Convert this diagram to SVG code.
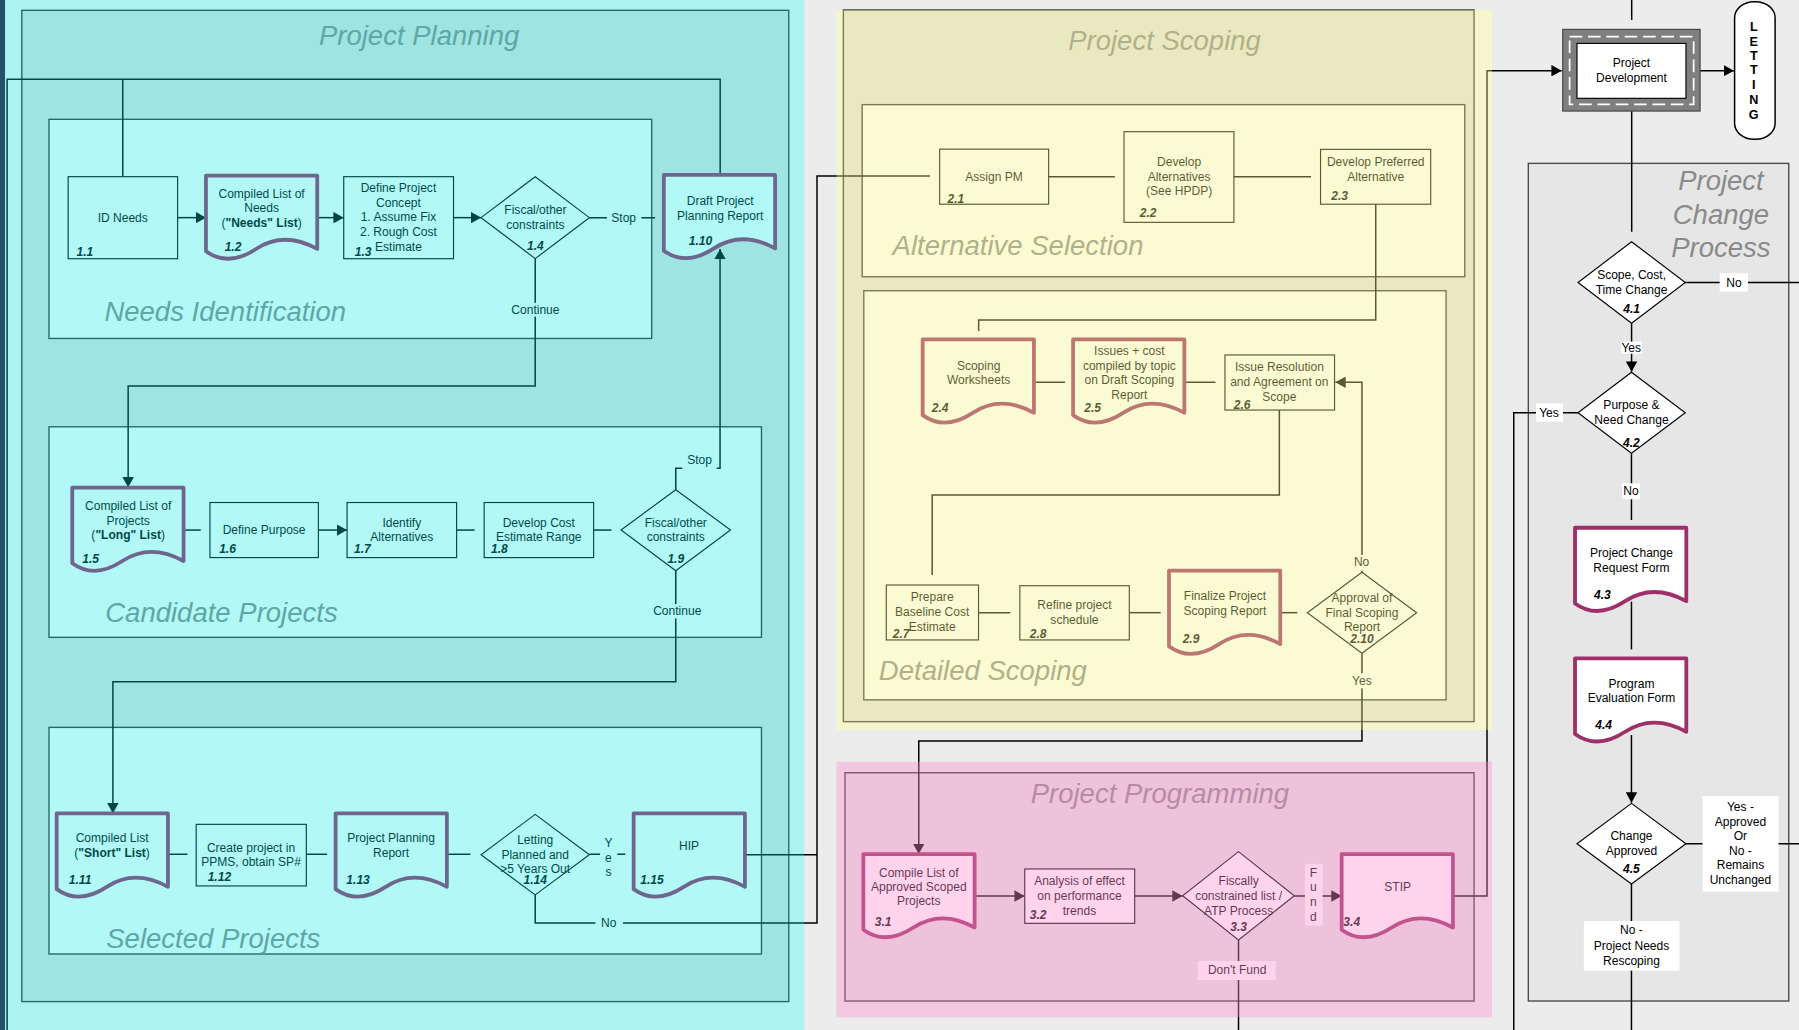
<svg xmlns="http://www.w3.org/2000/svg" xmlns:xlink="http://www.w3.org/1999/xlink" width="1799" height="1030" viewBox="0 0 1799 1030">
<style>
text{font-family:"Liberation Sans",Arial,sans-serif;font-size:10.5px;fill:#000}
.t{text-anchor:middle}
.n{font-weight:bold;font-style:italic}
.nm{font-weight:bold;font-style:italic;text-anchor:middle}
.b{font-weight:bold}
.title{font-size:24px;font-style:italic;fill:#8a8a8a}
.tc{font-size:24px;font-style:italic;fill:#8a8a8a;text-anchor:middle}
.box{fill:#e3e3e3;stroke:#333;stroke-width:1.2}
.sub{fill:#fff;stroke:#333;stroke-width:1.2}
.node{fill:#fff;stroke:#000;stroke-width:1}
.doc{fill:#fff;stroke:#9e2f68;stroke-width:3.3;stroke-linejoin:round}
.c{fill:none;stroke:#000;stroke-width:1.3}
.ca{fill:none;stroke:#000;stroke-width:1.3;marker-end:url(#ah)}
.lbl{fill:#fff}
.let{font-weight:bold;font-size:11px;text-anchor:middle}
</style>
<defs>
<marker id="ah" viewBox="0 0 9 10" refX="9" refY="5" markerWidth="9" markerHeight="10" markerUnits="userSpaceOnUse" orient="auto"><path d="M0,0L9,5L0,10z" fill="#000"/></marker>
<path id="doc" d="M0,0H97V64Q67.9,48 43.65,64Q19.4,80 0,66Z"/>
</defs>
<g transform="scale(1.1473)">
<rect x="0" y="0" width="1570" height="900" fill="#ececec"/>
<rect x="4.4" y="0" width="696.5" height="900" fill="#f8f8f8"/>
<rect x="729.1" y="8.7" width="571.3" height="627.6" fill="#f8f8f8"/>
<rect x="0" y="0" width="4.4" height="900" fill="#25506e"/>

<g id="areas">
<rect class="box" x="19" y="9" width="668.5" height="864"/>
<text class="tc" x="365.3" y="39">Project Planning</text>
<rect class="sub" x="42.7" y="104" width="525.3" height="191"/>
<text class="title" x="91" y="280">Needs Identification</text>
<rect class="sub" x="42.7" y="372" width="621" height="183.5"/>
<text class="title" x="91.7" y="542">Candidate Projects</text>
<rect class="sub" x="42.7" y="634" width="621" height="197.5"/>
<text class="title" x="92.6" y="826">Selected Projects</text>

<rect class="box" x="735.1" y="8.7" width="549.7" height="620.3"/>
<text class="tc" x="1015" y="44">Project Scoping</text>
<rect class="sub" x="751.5" y="91.2" width="525.2" height="150"/>
<text class="title" x="778" y="222">Alternative Selection</text>
<rect class="sub" x="752.9" y="253.4" width="507.5" height="356.6"/>
<text class="title" x="766" y="593">Detailed Scoping</text>

<rect class="box" x="736.5" y="673.5" width="548.3" height="199"/>
<text class="tc" x="1011" y="700">Project Programming</text>

<rect x="1332.1" y="142.4" width="227" height="730.1" fill="#e6e6e6" stroke="#4a4a4a" stroke-width="1.2"/>
<text class="tc" x="1500" y="166">Project</text>
<text class="tc" x="1500" y="195">Change</text>
<text class="tc" x="1500" y="224">Process</text>
</g>

<g id="connectors">
<path class="ca" d="M154.8,189.7H179.5"/>
<path class="ca" d="M276.8,189.7H299.6"/>
<path class="ca" d="M395.3,189.7H419.3"/>
<path class="c" d="M513.7,189.7H571"/>
<rect class="lbl" x="529" y="183.5" width="30" height="12.5"/>
<text class="t" x="543.6" y="193.5">Stop</text>
<path class="ca" d="M466.5,225.4V336.5H111.7V424.8"/>
<rect class="lbl" x="424.5" y="264" width="83.5" height="12"/>
<text class="t" x="466.7" y="273.8">Continue</text>
<path class="c" d="M107,154V69"/>
<path class="c" d="M627.7,152.5V69H6.2V900"/>
<path class="c" d="M159.5,462H175"/>
<path class="ca" d="M277.5,462H302.5"/>
<path class="c" d="M398,462H413.6"/>
<path class="c" d="M517.4,462H533"/>
<path class="ca" d="M589,426.8V408.2H627.6V217"/>
<rect class="lbl" x="594.6" y="393.7" width="30.1" height="15.2"/>
<text class="t" x="609.7" y="404.8">Stop</text>
<path class="ca" d="M589,497.4V594.2H98.4V709"/>
<rect class="lbl" x="559.6" y="526.5" width="60.7" height="12.5"/>
<text class="t" x="590.3" y="536.1">Continue</text>
<path class="c" d="M146.8,744.6H163.4"/>
<path class="c" d="M267,744.6H285"/>
<path class="c" d="M390.3,744.6H410"/>
<path class="c" d="M513.7,744.6H545"/>
<rect class="lbl" x="523" y="729" width="15" height="35"/>
<text class="t" x="530.3" y="738.3">Y</text>
<text class="t" x="530.3" y="751.1">e</text>
<text class="t" x="530.3" y="763.8">s</text>
<path class="c" d="M466.5,780V804.5H712.1V153.4H810.6"/>
<rect class="lbl" x="519" y="797" width="24" height="13.5"/>
<text class="t" x="530.5" y="807.8">No</text>
<path class="c" d="M649.7,745H712.1"/>

<path class="c" d="M914.3,154H971.7"/>
<path class="c" d="M1075.5,154H1142.7"/>
<path class="c" d="M1199.1,178V278.9H853V288.5"/>
<path class="c" d="M902.3,333.2H928.3"/>
<path class="c" d="M1033.4,333.2H1059.4"/>
<path class="c" d="M1115.1,357.4V431.4H812.5V501.2"/>
<path class="c" d="M852.9,534H880.6"/>
<path class="c" d="M984.3,534H1011.7"/>
<path class="c" d="M1116.5,534H1130.7"/>
<path class="ca" d="M1187.1,498.8V333.2H1163.9"/>
<rect class="lbl" x="1175.2" y="483.7" width="23.3" height="13.7"/>
<text class="t" x="1186.8" y="493.4">No</text>
<path class="ca" d="M1187.1,569.4V645.9H800.8V744.4"/>
<rect class="lbl" x="1175.2" y="586.9" width="23.3" height="13.1"/>
<text class="t" x="1187" y="597.1">Yes</text>

<path class="ca" d="M849.8,781H893.2"/>
<path class="ca" d="M989,781H1030.8"/>
<path class="ca" d="M1128.1,781H1169.4"/>
<rect class="lbl" x="1137.5" y="753" width="15.3" height="53.8"/>
<text class="t" x="1144.7" y="764.2">F</text>
<text class="t" x="1144.7" y="776.6">u</text>
<text class="t" x="1144.7" y="789.7">n</text>
<text class="t" x="1144.7" y="802.8">d</text>
<path class="c" d="M1079.5,819.3V900"/>
<rect class="lbl" x="1044" y="837.6" width="68" height="16.6"/>
<text class="t" x="1078.3" y="848.7">Don't Fund</text>
<path class="ca" d="M1267.6,781H1296.1V61.6H1361.2"/>

<path class="c" d="M1422.2,0V17.4"/>
<path class="ca" d="M1481.8,61.6H1511.3"/>
<path class="c" d="M1422.2,96.8V202"/>
<path class="c" d="M1468.9,246.2H1570"/>
<rect class="lbl" x="1498.9" y="238.2" width="24.7" height="16"/>
<text class="t" x="1511.3" y="250.2">No</text>
<path class="ca" d="M1422.1,281.8V324"/>
<rect class="lbl" x="1412.9" y="297.8" width="18.3" height="10.5"/>
<text class="t" x="1421.8" y="306.5">Yes</text>
<path class="c" d="M1375.4,359.8H1319.4V900"/>
<rect class="lbl" x="1338.8" y="351.5" width="23.5" height="16"/>
<text class="t" x="1350.1" y="363.5">Yes</text>
<path class="c" d="M1422,395.1V453.2"/>
<rect class="lbl" x="1413.8" y="421.3" width="15.6" height="13.9"/>
<text class="t" x="1421.6" y="431.8">No</text>
<path class="c" d="M1422,524.4V566"/>
<path class="ca" d="M1422,640.7V699.6"/>
<path class="c" d="M1469.5,735.4H1570"/>
<rect class="lbl" x="1484" y="693.8" width="66.2" height="83.4"/>
<text class="t" x="1517" y="706.9">Yes -</text>
<text class="t" x="1517" y="720">Approved</text>
<text class="t" x="1517" y="732.2">Or</text>
<text class="t" x="1517" y="745.3">No -</text>
<text class="t" x="1517" y="757.8">Remains</text>
<text class="t" x="1517" y="770.8">Unchanged</text>
<path class="c" d="M1422,770.5V900"/>
<rect class="lbl" x="1380.5" y="802.8" width="83.3" height="43.2"/>
<text class="t" x="1422" y="814.4">No -</text>
<text class="t" x="1422" y="828.1">Project Needs</text>
<text class="t" x="1422" y="841.4">Rescoping</text>
</g>

<g id="n1_1"><rect class="node" x="59.4" y="154" width="95.4" height="71.5"/><text class="t" x="107" y="193.5">ID Needs</text><text class="n" x="66.7" y="223.2">1.1</text></g>
<g id="n1_2"><use href="#doc" class="doc" x="179.5" y="153"/><text class="t" x="228" y="172.3">Compiled List of</text><text class="t" x="228" y="185.1">Needs</text><text class="t" x="228" y="197.9">(<tspan class="b">"Needs" List</tspan>)</text><text class="n" x="195.8" y="218.8">1.2</text></g>
<g id="n1_3"><rect class="node" x="299.6" y="154" width="95.7" height="71.5"/><text class="t" x="347.3" y="167.4">Define Project</text><text class="t" x="347.3" y="180.2">Concept</text><text class="t" x="347.3" y="193">1. Assume Fix</text><text class="t" x="347.3" y="205.8">2. Rough Cost</text><text class="t" x="347.3" y="218.6">Estimate</text><text class="n" x="309.2" y="223.2">1.3</text></g>
<g id="n1_4"><polygon class="node" points="466.5,154 513.7,189.7 466.5,225.4 419.3,189.7"/><text class="t" x="466.7" y="186.8">Fiscal/other</text><text class="t" x="466.7" y="199.9">constraints</text><text class="nm" x="466.7" y="217.9">1.4</text></g>
<g id="n1_10"><use href="#doc" class="doc" x="578.6" y="152.5"/><text class="t" x="627.7" y="178.7">Draft Project</text><text class="t" x="627.7" y="192.1">Planning Report</text><text class="n" x="600.4" y="213.6">1.10</text></g>
<g id="n1_5"><use href="#doc" class="doc" x="63" y="425"/><text class="t" x="111.7" y="444.5">Compiled List of</text><text class="t" x="111.7" y="457.6">Projects</text><text class="t" x="111.7" y="469.8">(<tspan class="b">"Long" List</tspan>)</text><text class="n" x="71.7" y="490.3">1.5</text></g>
<g id="n1_6"><rect class="node" x="183" y="438" width="94.5" height="48"/><text class="t" x="230.2" y="465.8">Define Purpose</text><text class="n" x="191" y="482.3">1.6</text></g>
<g id="n1_7"><rect class="node" x="302.5" y="438" width="95.5" height="48"/><text class="t" x="350.2" y="459.3">Identify</text><text class="t" x="350.2" y="471.6">Alternatives</text><text class="n" x="308.5" y="482.3">1.7</text></g>
<g id="n1_8"><rect class="node" x="422" y="438" width="95.4" height="48"/><text class="t" x="469.6" y="459.3">Develop Cost</text><text class="t" x="469.6" y="471.6">Estimate Range</text><text class="n" x="428" y="482.3">1.8</text></g>
<g id="n1_9"><polygon class="node" points="589,426.8 636.7,462 589,497.4 541.3,462"/><text class="t" x="589" y="459.3">Fiscal/other</text><text class="t" x="589" y="471.6">constraints</text><text class="nm" x="589" y="490.4">1.9</text></g>
<g id="n1_11"><use href="#doc" class="doc" x="49.4" y="709"/><text class="t" x="97.7" y="733.8">Compiled List</text><text class="t" x="97.7" y="747">(<tspan class="b">"Short" List</tspan>)</text><text class="n" x="60" y="770.8">1.11</text></g>
<g id="n1_12"><rect class="node" x="171" y="718.5" width="96" height="53.7"/><text class="t" x="218.8" y="742.6">Create project in</text><text class="t" x="218.8" y="754.8">PPMS, obtain SP#</text><text class="n" x="181" y="767.9">1.12</text></g>
<g id="n1_13"><use href="#doc" class="doc" x="292.5" y="709"/><text class="t" x="340.9" y="733.8">Project Planning</text><text class="t" x="340.9" y="746.8">Report</text><text class="n" x="301.9" y="770.8">1.13</text></g>
<g id="n1_14"><polygon class="node" points="466.5,709.8 513.7,745 466.5,780 419.3,745"/><text class="t" x="466.5" y="736">Letting</text><text class="t" x="466.5" y="748.4">Planned and</text><text class="t" x="466.5" y="760.8">&gt;5 Years Out</text><text class="nm" x="466.5" y="770.8">1.14</text></g>
<g id="n1_15"><use href="#doc" class="doc" x="552.3" y="709"/><text class="t" x="600.6" y="740.9">HIP</text><text class="n" x="558" y="770.8">1.15</text></g>

<g id="n2_1"><rect class="node" x="819" y="130" width="95" height="48"/><text class="t" x="866.4" y="157.8">Assign PM</text><text class="n" x="825.9" y="177.3">2.1</text></g>
<g id="n2_2"><rect class="node" x="979.7" y="114.8" width="95.8" height="79"/><text class="t" x="1027.7" y="144.7">Develop</text><text class="t" x="1027.7" y="157.8">Alternatives</text><text class="t" x="1027.7" y="170">(See HPDP)</text><text class="n" x="993.4" y="189.2">2.2</text></g>
<g id="n2_3"><rect class="node" x="1151" y="130.2" width="96" height="47.8"/><text class="t" x="1199.1" y="144.7">Develop Preferred</text><text class="t" x="1199.1" y="157.8">Alternative</text><text class="n" x="1160.4" y="174.6">2.3</text></g>
<g id="n2_4"><use href="#doc" class="doc" x="804.2" y="295.8"/><text class="t" x="853" y="322.8">Scoping</text><text class="t" x="853" y="335">Worksheets</text><text class="n" x="812.2" y="358.8">2.4</text></g>
<g id="n2_5"><use href="#doc" class="doc" x="935.3" y="295.8"/><text class="t" x="984.4" y="309.4">Issues + cost</text><text class="t" x="984.4" y="322.5">compiled by topic</text><text class="t" x="984.4" y="335">on Draft Scoping</text><text class="t" x="984.4" y="348.1">Report</text><text class="n" x="945" y="358.8">2.5</text></g>
<g id="n2_6"><rect class="node" x="1067.7" y="309.4" width="95.5" height="48"/><text class="t" x="1115.1" y="323.4">Issue Resolution</text><text class="t" x="1115.1" y="336.5">and Agreement on</text><text class="t" x="1115.1" y="349.6">Scope</text><text class="n" x="1075.4" y="356.2">2.6</text></g>
<g id="n2_7"><rect class="node" x="772.5" y="509.9" width="80.4" height="47.9"/><text class="t" x="812.5" y="523.8">Prepare</text><text class="t" x="812.5" y="536.9">Baseline Cost</text><text class="t" x="812.5" y="550">Estimate</text><text class="n" x="778.2" y="555.8">2.7</text></g>
<g id="n2_8"><rect class="node" x="888.9" y="510.5" width="95.4" height="47.3"/><text class="t" x="936.5" y="531.1">Refine project</text><text class="t" x="936.5" y="544.2">schedule</text><text class="n" x="897.5" y="555.8">2.8</text></g>
<g id="n2_9"><use href="#doc" class="doc" x="1018.9" y="497.4"/><text class="t" x="1067.7" y="523">Finalize Project</text><text class="t" x="1067.7" y="536.1">Scoping Report</text><text class="n" x="1030.8" y="560.2">2.9</text></g>
<g id="n2_10"><polygon class="node" points="1187.1,498.8 1234.8,534.1 1187.1,569.4 1139.5,534.1"/><text class="t" x="1187.1" y="524.8">Approval of</text><text class="t" x="1187.1" y="537.8">Final Scoping</text><text class="t" x="1187.1" y="550">Report</text><text class="nm" x="1187.1" y="560.2">2.10</text></g>

<g id="n3_1"><use href="#doc" class="doc" x="752.5" y="744.4"/><text class="t" x="800.8" y="764.1">Compile List of</text><text class="t" x="800.8" y="776.6">Approved Scoped</text><text class="t" x="800.8" y="788.8">Projects</text><text class="n" x="762.5" y="807.1">3.1</text></g>
<g id="n3_2"><rect class="node" x="893.2" y="757.4" width="95.8" height="47.4"/><text class="t" x="940.9" y="771.8">Analysis of effect</text><text class="t" x="940.9" y="784.8">on performance</text><text class="t" x="940.9" y="797.8">trends</text><text class="n" x="897.6" y="801.3">3.2</text></g>
<g id="n3_3"><polygon class="node" points="1079.5,742.3 1128.1,780.8 1079.5,819.3 1030.8,780.8"/><text class="t" x="1079.6" y="771.4">Fiscally</text><text class="t" x="1079.6" y="784.5">constrained list /</text><text class="t" x="1079.6" y="797.5">ATP Process</text><text class="nm" x="1079.6" y="811.5">3.3</text></g>
<g id="n3_4"><use href="#doc" class="doc" x="1169.4" y="744.4"/><text class="t" x="1218.2" y="776.6">STIP</text><text class="n" x="1170.9" y="807.1">3.4</text></g>

<g id="project_development"><rect x="1362.1" y="25.6" width="119.7" height="71.2" fill="#7f7f7f" stroke="#444" stroke-width="1"/><rect x="1368.1" y="32" width="108.1" height="59" fill="none" stroke="#fff" stroke-width="1.5" stroke-dasharray="11 5"/><rect class="node" x="1374.5" y="37.8" width="95" height="47.9"/><text class="t" x="1422" y="58.4">Project</text><text class="t" x="1422" y="71.5">Development</text></g>
<g id="letting"><rect x="1511.9" y="1.5" width="35.3" height="119.9" rx="17" ry="14" fill="#fff" stroke="#000" stroke-width="1.3"/><text class="let" x="1528.6" y="27.1">L</text><text class="let" x="1528.6" y="40.2">E</text><text class="let" x="1528.6" y="52.4">T</text><text class="let" x="1528.6" y="64.9">T</text><text class="let" x="1528.6" y="77.9">I</text><text class="let" x="1528.6" y="90.7">N</text><text class="let" x="1528.6" y="103.3">G</text></g>
<g id="n4_1"><polygon class="node" points="1422.1,210.7 1468.9,246.2 1422.1,281.8 1375.4,246.2"/><text class="t" x="1422.1" y="243.5">Scope, Cost,</text><text class="t" x="1422.1" y="256">Time Change</text><text class="nm" x="1422.1" y="272.5">4.1</text></g>
<g id="n4_2"><polygon class="node" points="1422,324.5 1468.9,359.8 1422,395.1 1375.4,359.8"/><text class="t" x="1422" y="356.8">Purpose &amp;</text><text class="t" x="1422" y="369.8">Need Change</text><text class="nm" x="1422" y="389.3">4.2</text></g>
<g id="n4_3"><use href="#doc" class="doc" x="1372.8" y="460"/><text class="t" x="1422" y="485.5">Project Change</text><text class="t" x="1422" y="498.6">Request Form</text><text class="n" x="1389.3" y="522.4">4.3</text></g>
<g id="n4_4"><use href="#doc" class="doc" x="1372.8" y="573.8"/><text class="t" x="1422" y="599.4">Program</text><text class="t" x="1422" y="611.9">Evaluation Form</text><text class="n" x="1390.5" y="635.1">4.4</text></g>
<g id="n4_5"><polygon class="node" points="1422,700.2 1469.5,735.4 1422,770.5 1374.5,735.4"/><text class="t" x="1422" y="732.2">Change</text><text class="t" x="1422" y="745.3">Approved</text><text class="nm" x="1422" y="761.2">4.5</text></g>

<g id="highlights">
<rect x="4.4" y="0" width="696.5" height="900" fill="#00e9e3" opacity="0.3"/>
<rect x="729.1" y="8.7" width="571.3" height="627.6" fill="#f3f387" opacity="0.37"/>
<rect x="729.1" y="663.9" width="571.3" height="222.8" fill="#ff8dcd" opacity="0.39"/>
</g>
</g>
</svg>
